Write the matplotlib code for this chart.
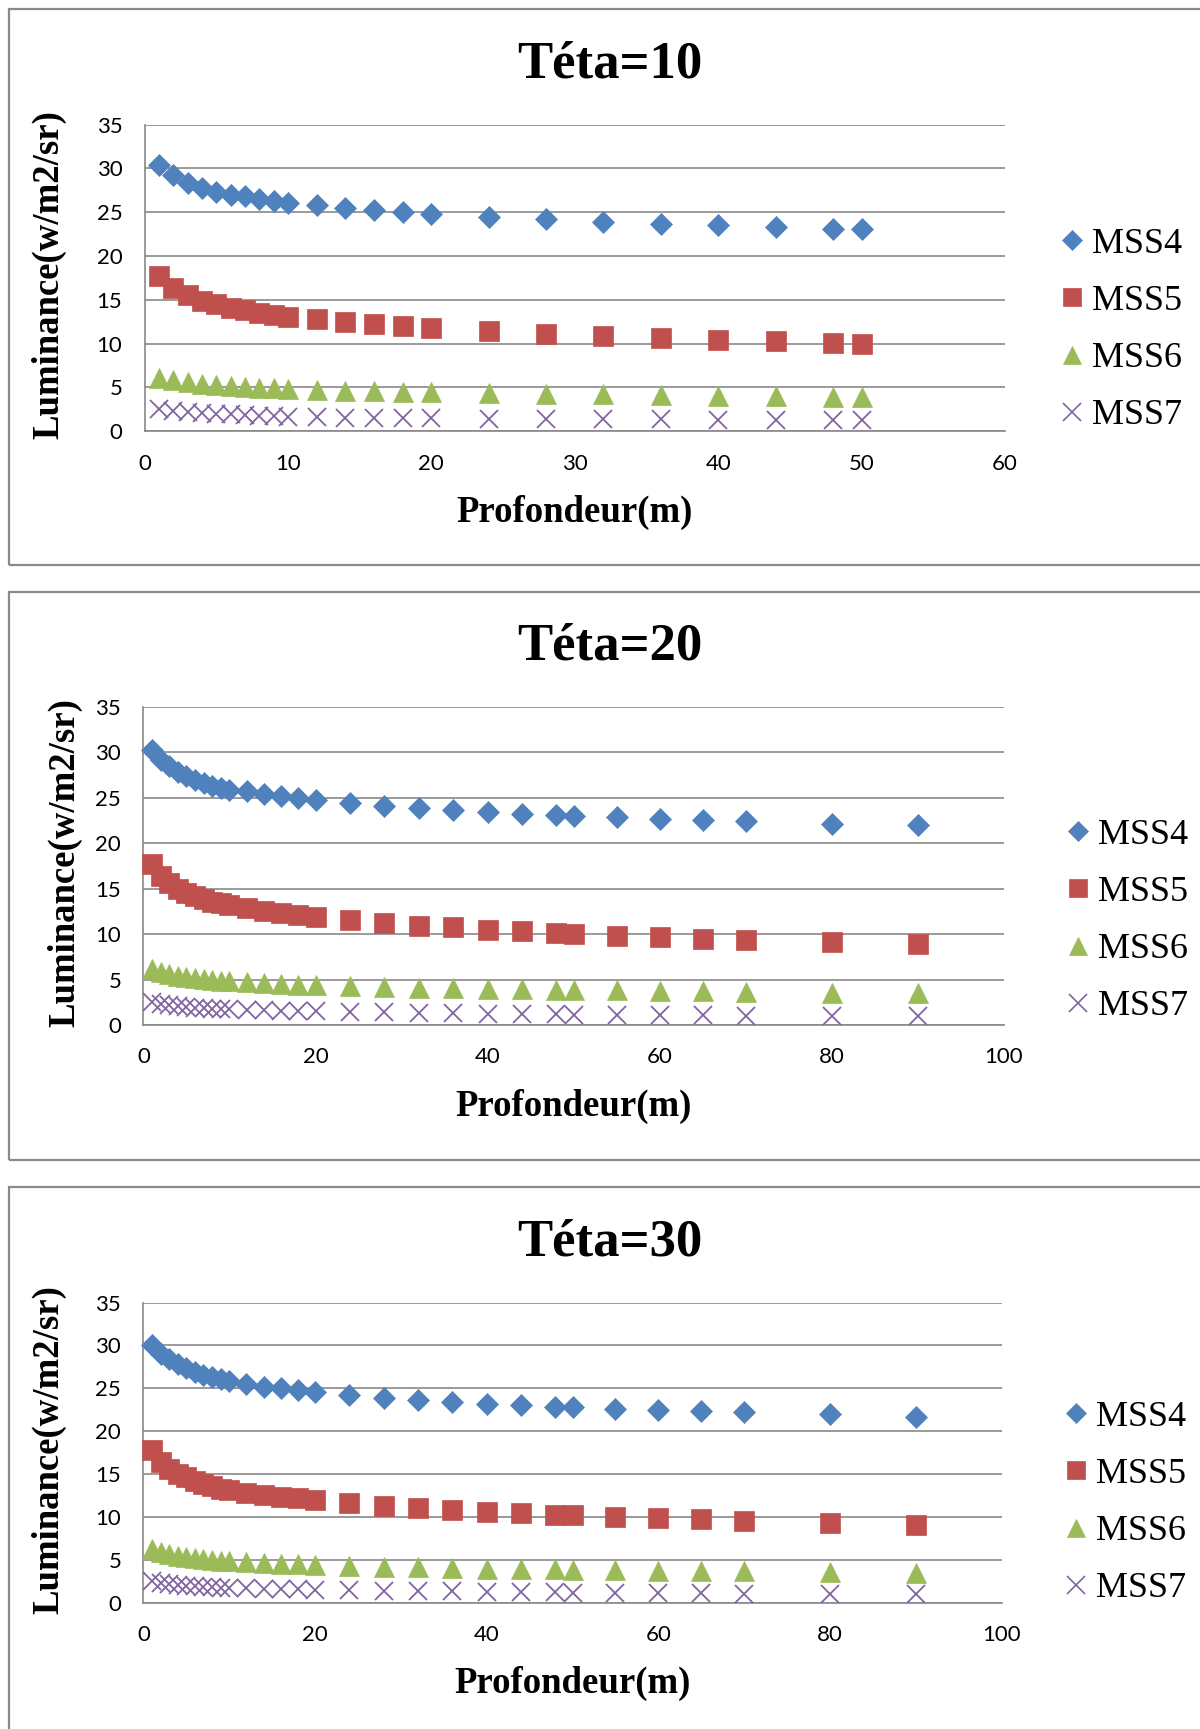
import matplotlib
matplotlib.use('Agg')
import matplotlib.pyplot as plt
from matplotlib.patches import Rectangle
from matplotlib.lines import Line2D

# depths (m)
depth_10 = [1, 2, 3, 4, 5, 6, 7, 8, 9, 10, 12, 14, 16, 18, 20, 24, 28, 32, 36, 40, 44, 48, 50]
depth_20 = depth_10 + [55, 60, 65, 70, 80, 90]
depth_30 = depth_20

# Teta = 10
mss4_10 = [30.4, 29.2, 28.3, 27.75, 27.3, 27.0, 26.8, 26.55, 26.3, 26.1, 25.8, 25.45, 25.2, 25.0, 24.8,
           24.5, 24.2, 23.9, 23.7, 23.5, 23.3, 23.1, 23.1]
mss5_10 = [17.7, 16.4, 15.5, 14.9, 14.5, 14.1, 13.8, 13.5, 13.3, 13.1, 12.8, 12.5, 12.2, 12.0, 11.75,
           11.45, 11.15, 10.85, 10.65, 10.4, 10.25, 10.05, 10.0]
mss6_10 = [6.1, 5.8, 5.6, 5.4, 5.3, 5.15, 5.05, 4.95, 4.9, 4.8, 4.7, 4.6, 4.55, 4.5, 4.45,
           4.35, 4.25, 4.2, 4.1, 4.05, 4.0, 3.95, 3.9]
mss7_10 = [2.6, 2.35, 2.2, 2.1, 2.0, 1.92, 1.85, 1.78, 1.72, 1.68, 1.62, 1.57, 1.53, 1.5, 1.47,
           1.43, 1.4, 1.37, 1.35, 1.33, 1.31, 1.3, 1.29]

# Teta = 20
mss4_20 = [30.3, 29.2, 28.5, 27.9, 27.4, 27.0, 26.6, 26.3, 26.1, 25.9, 25.7, 25.4, 25.2, 24.95, 24.75,
           24.4, 24.1, 23.85, 23.65, 23.45, 23.25, 23.1, 23.05, 22.85, 22.7, 22.55, 22.45, 22.15, 22.0]
mss5_20 = [17.7, 16.4, 15.6, 15.0, 14.55, 14.2, 13.85, 13.55, 13.4, 13.2, 12.9, 12.55, 12.35, 12.1, 11.9,
           11.55, 11.25, 10.95, 10.75, 10.5, 10.35, 10.1, 10.05, 9.8, 9.65, 9.5, 9.4, 9.15, 8.9]
mss6_20 = [6.15, 5.85, 5.6, 5.42, 5.28, 5.15, 5.05, 4.96, 4.88, 4.82, 4.7, 4.6, 4.52, 4.45, 4.38,
           4.27, 4.18, 4.1, 4.03, 3.97, 3.92, 3.88, 3.86, 3.8, 3.75, 3.7, 3.65, 3.56, 3.48]
mss7_20 = [2.5, 2.3, 2.15, 2.05, 1.97, 1.9, 1.84, 1.79, 1.75, 1.72, 1.65, 1.6, 1.56, 1.53, 1.5,
           1.44, 1.38, 1.33, 1.29, 1.25, 1.21, 1.17, 1.15, 1.12, 1.09, 1.06, 1.03, 0.98, 0.94]

# Teta = 30
mss4_30 = [30.1, 29.0, 28.45, 27.85, 27.4, 26.95, 26.6, 26.3, 26.05, 25.85, 25.5, 25.2, 25.0, 24.8, 24.57,
           24.22, 23.9, 23.6, 23.4, 23.22, 23.02, 22.87, 22.8, 22.6, 22.45, 22.33, 22.2, 21.95, 21.7]
mss5_30 = [17.75, 16.4, 15.6, 15.05, 14.6, 14.2, 13.85, 13.55, 13.3, 13.1, 12.8, 12.55, 12.35, 12.15, 11.95,
           11.6, 11.28, 11.05, 10.8, 10.55, 10.4, 10.23, 10.2, 10.0, 9.85, 9.7, 9.55, 9.3, 9.07]
mss6_30 = [6.25, 5.9, 5.65, 5.45, 5.3, 5.18, 5.07, 4.98, 4.9, 4.83, 4.7, 4.6, 4.52, 4.45, 4.38,
           4.27, 4.18, 4.1, 4.03, 3.97, 3.92, 3.87, 3.85, 3.79, 3.74, 3.69, 3.64, 3.56, 3.5]
mss7_30 = [2.55, 2.32, 2.17, 2.06, 1.98, 1.91, 1.85, 1.8, 1.76, 1.72, 1.66, 1.61, 1.57, 1.53, 1.5,
           1.44, 1.39, 1.34, 1.3, 1.26, 1.22, 1.18, 1.16, 1.13, 1.1, 1.07, 1.04, 0.99, 0.95]

labels = ['MSS4', 'MSS5', 'MSS6', 'MSS7']
colors = ['#4F81BD', '#C0504D', '#9BBB59', '#8064A2']
markers = ['D', 's', '^', 'x']
sizes = [11, 14, 14, 13]

W = 1200
H = 1729
fig = plt.figure(figsize=(W / 100, H / 100), dpi=100)
serif = 'Liberation Serif'
sans = 'Lato'
grid_col = '#898989'


def fx(x):
    return x / W


def fy(y):
    return 1 - y / H


def make_panel(box, plot, title_y, xlab_y, ylab_x, leg_xy, xs, series, xmax, xstep, title):
    # outer frame of the chart
    x0, y0, y1 = box
    fig.patches.append(Rectangle((fx(x0), fy(y1)), 1.2, fy(y0) - fy(y1), transform=fig.transFigure,
                                 fill=False, edgecolor='#8a8a8a', linewidth=1.6))
    l, t, r, b = plot
    ax = fig.add_axes([fx(l), fy(b), fx(r) - fx(l), fy(t) - fy(b)])
    for i in range(4):
        mew = 1.3 if markers[i] == 'x' else 0.5
        ax.plot(xs, series[i], linestyle='none', marker=markers[i], markersize=sizes[i],
                color=colors[i], markeredgecolor=colors[i], markeredgewidth=mew,
                label=labels[i], zorder=3, clip_on=False)
    ax.set_xlim(0, xmax)
    ax.set_ylim(0, 35)
    ax.set_xticks(range(0, xmax + 1, xstep))
    ax.set_yticks(range(0, 36, 5))
    ax.yaxis.grid(True, color=grid_col, linewidth=1.2)
    ax.set_axisbelow(True)
    for s in ['top', 'right']:
        ax.spines[s].set_visible(False)
    for s in ['left', 'bottom']:
        ax.spines[s].set_color(grid_col)
        ax.spines[s].set_linewidth(1.2)
    ax.tick_params(length=0, labelsize=16, pad=16)
    for lab in ax.get_xticklabels() + ax.get_yticklabels():
        lab.set_family(sans)
    fig.text(fx(610), fy(title_y), title, family=serif, weight='bold', fontsize=38,
             ha='center', va='center')
    fig.text(fx((l + r) / 2), fy(xlab_y), 'Profondeur(m)', family=serif, weight='bold', fontsize=26.5,
             ha='center', va='center')
    fig.text(fx(ylab_x), fy((t + b) / 2 - 3), 'Luminance(w/m2/sr)', family=serif, weight='bold',
             fontsize=26.5, rotation=90, ha='center', va='center')
    handles = [Line2D([], [], linestyle='none', marker=markers[i], markersize=sizes[i] * 0.95,
                      color=colors[i], markeredgewidth=1.2 if markers[i] == 'x' else 0.5)
               for i in range(4)]
    ax.legend(handles, labels, loc='center left', bbox_to_anchor=(fx(leg_xy[0]), fy(leg_xy[1])),
              bbox_transform=fig.transFigure, frameon=False, prop={'family': serif, 'size': 26},
              handlelength=0.7, handletextpad=0.2, labelspacing=0.66, borderpad=0)
    return ax


make_panel((9, 9, 565), (144.5, 124.6, 1005, 431.3), 64, 512, 49, (1041, 330),
           depth_10, [mss4_10, mss5_10, mss6_10, mss7_10], 60, 10, 'Téta=10')
make_panel((9, 592, 1160), (143.4, 707, 1004, 1025), 647, 1106, 65, (1047, 921),
           depth_20, [mss4_20, mss5_20, mss6_20, mss7_20], 100, 20, 'Téta=20')
make_panel((9, 1187, 1800), (143.4, 1302.6, 1001.6, 1602.6), 1243, 1683, 49, (1045, 1503),
           depth_30, [mss4_30, mss5_30, mss6_30, mss7_30], 100, 20, 'Téta=30')

plt.savefig('out.png', dpi=100, facecolor='white')
